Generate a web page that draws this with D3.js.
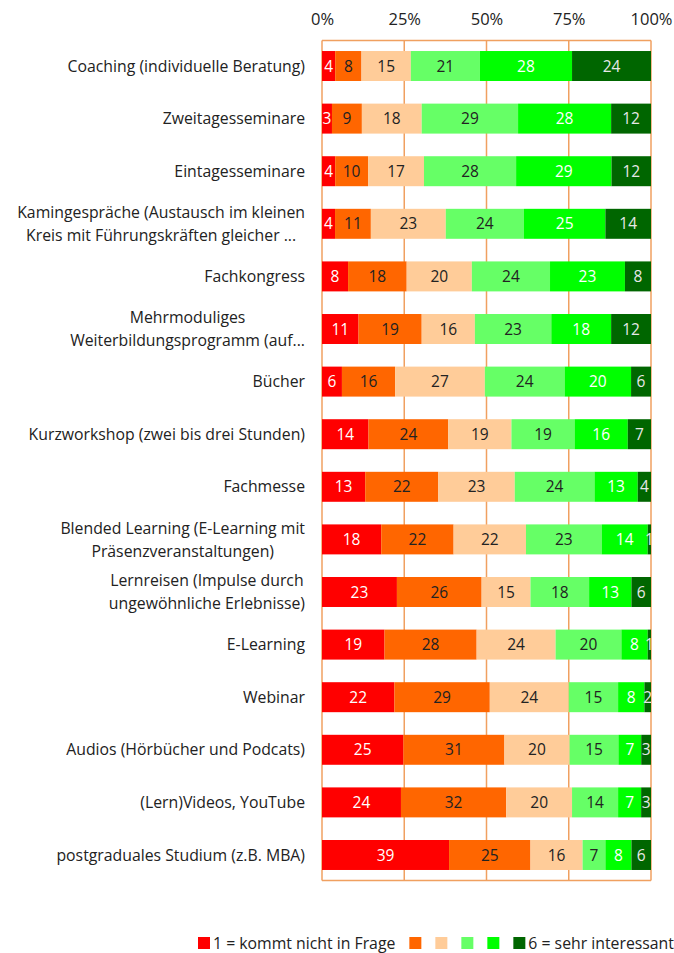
<!DOCTYPE html>
<html>
<head>
<meta charset="utf-8">
<script src="https://cdn.jsdelivr.net/npm/d3@7"></script>
<style>
  body { margin: 0; background: #fff; }
  svg { font-family: "Open Sans", "Noto Sans", sans-serif; }
</style>
</head>
<body>
<div id="chart"></div>
<script>
// categories (top to bottom), multi-line labels split with "|"
var categories = [
  "Coaching (individuelle Beratung)",
  "Zweitagesseminare",
  "Eintagesseminare",
  "Kamingespräche (Austausch im kleinen|Kreis mit Führungskräften gleicher ...",
  "Fachkongress",
  "Mehrmoduliges|Weiterbildungsprogramm (auf...",
  "Bücher",
  "Kurzworkshop (zwei bis drei Stunden)",
  "Fachmesse",
  "Blended Learning (E-Learning mit|Präsenzveranstaltungen)",
  "Lernreisen (Impulse durch|ungewöhnliche Erlebnisse)",
  "E-Learning",
  "Webinar",
  "Audios (Hörbücher und Podcats)",
  "(Lern)Videos, YouTube",
  "postgraduales Studium  (z.B. MBA)"
];

// one array per rating level, same order as categories
var r1 = [4, 3, 4, 4, 8, 11, 6, 14, 13, 18, 23, 19, 22, 25, 24, 39];
var r2 = [8, 9, 10, 11, 18, 19, 16, 24, 22, 22, 26, 28, 29, 31, 32, 25];
var r3 = [15, 18, 17, 23, 20, 16, 27, 19, 23, 22, 15, 24, 24, 20, 20, 16];
var r4 = [21, 29, 28, 24, 24, 23, 24, 19, 24, 23, 18, 20, 15, 15, 14, 7];
var r5 = [28, 28, 29, 25, 23, 18, 20, 16, 13, 14, 13, 8, 8, 7, 7, 8];
var r6 = [24, 12, 12, 14, 8, 12, 6, 7, 4, 1, 6, 1, 2, 3, 3, 6];

var seriesKeys = ["r1", "r2", "r3", "r4", "r5", "r6"];
var legendLabels = ["1 = kommt nicht in Frage", "", "", "", "", "6 = sehr interessant"];
var tickValues = [0, 0.25, 0.5, 0.75, 1];

var colors = ["#FF0000", "#FF6600", "#FFCC99", "#66FF66", "#00FF00", "#006600"];
var textColors = ["#ffffff", "#222222", "#222222", "#222222", "#ffffff", "#e8e8e8"];

var rows = categories.map(function(c, i) {
  return {cat: c, r1: r1[i], r2: r2[i], r3: r3[i], r4: r4[i], r5: r5[i], r6: r6[i]};
});

var W = 674, H = 953;
var margin = {top: 40.5, left: 322, right: 23, bottom: 72.5};
var width = W - margin.left - margin.right,
    height = H - margin.top - margin.bottom;

var svg = d3.select("#chart").append("svg")
    .attr("width", W).attr("height", H);

var g = svg.append("g")
    .attr("transform", "translate(" + margin.left + "," + margin.top + ")");

var x = d3.scaleLinear().domain([0, 1]).range([0, width]);
var y = d3.scaleBand().domain(categories).range([0, height])
    .paddingInner(0.43).paddingOuter(0.2);
var color = d3.scaleOrdinal().domain(seriesKeys).range(colors);
var tcolor = d3.scaleOrdinal().domain(seriesKeys).range(textColors);

var stacked = d3.stack().keys(seriesKeys).offset(d3.stackOffsetExpand)(rows);

svg.append("defs").append("clipPath").attr("id", "plotclip")
  .append("rect").attr("width", width).attr("height", height);

// frame + vertical gridlines (orange), drawn behind the bars
var lineColor = "#F0A060";
g.selectAll(".grid")
  .data(tickValues)
  .enter().append("line")
    .attr("x1", function(d) { return x(d); })
    .attr("x2", function(d) { return x(d); })
    .attr("y1", 0).attr("y2", height)
    .attr("stroke", lineColor).attr("stroke-width", 1.5);
g.append("line").attr("x1", 0).attr("x2", width).attr("y1", 0).attr("y2", 0)
    .attr("stroke", lineColor).attr("stroke-width", 1.5);
g.append("line").attr("x1", 0).attr("x2", width).attr("y1", height).attr("y2", height)
    .attr("stroke", lineColor).attr("stroke-width", 1.5);

var plot = g.append("g").attr("clip-path", "url(#plotclip)");

// bars
var layers = plot.selectAll(".layer")
  .data(stacked)
  .enter().append("g")
    .attr("class", "layer")
    .attr("fill", function(d) { return color(d.key); });

layers.selectAll("rect")
  .data(function(d) { return d; })
  .enter().append("rect")
    .attr("x", function(d) { return x(d[0]); })
    .attr("y", function(d) { return y(d.data.cat); })
    .attr("width", function(d) { return x(d[1]) - x(d[0]); })
    .attr("height", y.bandwidth());

// value labels
stacked.forEach(function(layer) {
  plot.append("g").selectAll("text")
    .data(layer)
    .enter().append("text")
      .attr("x", function(d) { return (x(d[0]) + x(d[1])) / 2; })
      .attr("y", function(d) { return y(d.data.cat) + y.bandwidth() / 2; })
      .attr("dy", "0.36em")
      .attr("text-anchor", "middle")
      .style("font-size", "15.5px")
      .style("fill", tcolor(layer.key))
      .text(function(d) { return d.data[layer.key]; });
});

// top axis labels
var xAxis = g.append("g")
  .call(d3.axisTop(x).tickValues(tickValues).tickFormat(d3.format(".0%")).tickSize(0).tickPadding(16));
xAxis.select(".domain").remove();
xAxis.selectAll("text")
  .style("font-family", "\"Open Sans\", sans-serif")
  .style("font-size", "16.5px")
  .style("fill", "#222");

// category labels
var labelRight = -17;
categories.forEach(function(c) {
  var lines = c.split("|");
  var cy = y(c) + y.bandwidth() / 2;
  var t = g.append("text")
    .style("font-size", "15.8px")
    .style("fill", "#222");
  if (lines.length === 1) {
    t.attr("x", labelRight).attr("y", cy).attr("dy", "0.36em")
      .attr("text-anchor", "end").text(c);
  } else {
    lines.forEach(function(l, i) {
      t.append("tspan").attr("y", cy + (i - 0.5) * 23).attr("dy", "0.36em").text(l);
    });
    var maxW = 0;
    t.selectAll("tspan").each(function() { maxW = Math.max(maxW, this.getComputedTextLength()); });
    var cx = labelRight - maxW / 2;
    t.attr("text-anchor", "middle");
    t.selectAll("tspan").attr("x", cx);
  }
});

// legend
var legend = svg.append("g").attr("transform", "translate(198," + 943 + ")");
var lx = 0;
seriesKeys.forEach(function(k, i) {
  var item = legend.append("g").attr("transform", "translate(" + lx + ",0)");
  item.append("rect").attr("x", 0).attr("y", -6).attr("width", 12).attr("height", 12)
    .attr("fill", color(k));
  var w = 0;
  if (legendLabels[i]) {
    var tt = item.append("text").attr("x", 15).attr("y", 0).attr("dy", "0.36em")
      .style("font-size", "15.8px").style("fill", "#222")
      .text(legendLabels[i]);
    w = tt.node().getComputedTextLength() + 3;
  }
  lx += 12 + w + 14;
});
</script>
</body>
</html>
